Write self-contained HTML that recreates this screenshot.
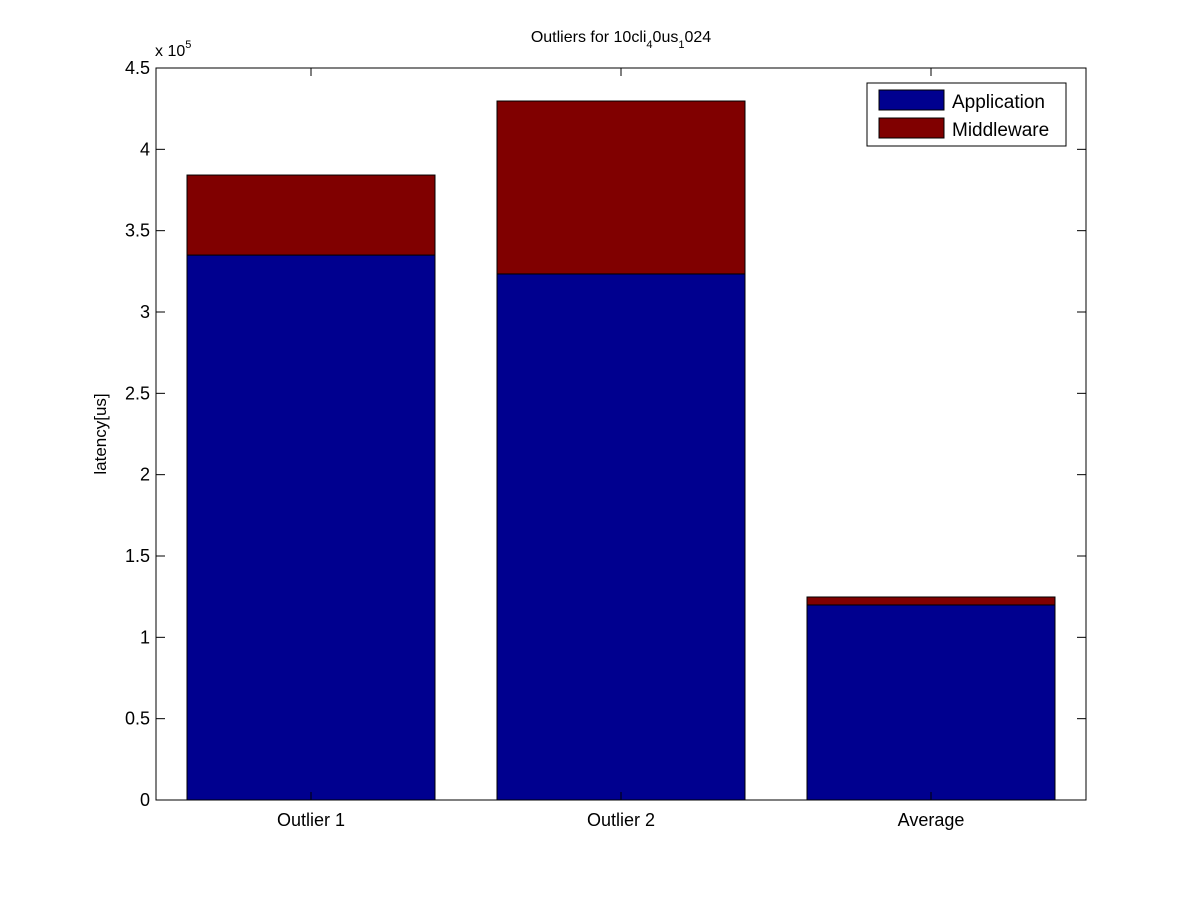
<!DOCTYPE html>
<html><head><meta charset="utf-8"><style>body{margin:0;background:#fff}svg{display:block;font-family:"Liberation Sans",Arial,sans-serif}</style></head>
<body>
<svg id="chart" width="1200" height="900">
<rect width="1200" height="900" fill="#fff"/>
<g id="plot"></g>
<text x="621" y="42" font-size="16" text-anchor="middle">Outliers for 10cli<tspan font-size="11" dy="6">4</tspan><tspan dy="-6">0us</tspan><tspan font-size="11" dy="6">1</tspan><tspan dy="-6">024</tspan></text>
<text transform="translate(106,434) rotate(-90)" font-size="17" text-anchor="middle">latency[us]</text>
<text x="155" y="56" font-size="16">x 10<tspan font-size="11" dy="-8">5</tspan></text>
<g>
<rect x="867" y="83" width="199" height="63" fill="#fff" stroke="#000"/>
<rect x="879" y="90" width="65" height="20" fill="#00008f" stroke="#000"/>
<text x="952" y="108" font-size="19">Application</text>
<rect x="879" y="118" width="65" height="20" fill="#800000" stroke="#000"/>
<text x="952" y="136" font-size="19">Middleware</text>
</g>
</svg>
<script>
const categories = ["Outlier 1", "Outlier 2", "Average"];
const application = [335000, 323400, 119900];
const middleware = [49200, 106300, 4900];
const yTicks = [0, 50000, 100000, 150000, 200000, 250000, 300000, 350000, 400000, 450000];
const yTickLabels = ["0", "0.5", "1", "1.5", "2", "2.5", "3", "3.5", "4", "4.5"];

const L = 156, R = 1086, T = 68, B = 800, yMax = 450000;
const NS = "http://www.w3.org/2000/svg";
const g = document.getElementById('plot');
const xScale = i => L + (i + 0.5) * (R - L) / categories.length;
const yScale = v => B - v / yMax * (B - T);
const bw = 0.8 * (R - L) / categories.length;
function mk(tag, attrs) { const e = document.createElementNS(NS, tag); for (const k in attrs) e.setAttribute(k, attrs[k]); g.appendChild(e); return e; }

categories.forEach((c, i) => {
  const x = xScale(i) - bw / 2;
  const a = mk('rect', {x: x, y: yScale(application[i]), width: bw, height: B - yScale(application[i]), fill: '#00008f', stroke: '#000'});
  
  
  const top = application[i] + middleware[i];
  const m = mk('rect', {x: x, y: yScale(top), width: bw, height: yScale(application[i]) - yScale(top), fill: '#800000', stroke: '#000'});
  
  
  const t = mk('text', {x: xScale(i), y: B + 26, 'font-size': 18, 'text-anchor': 'middle'});
  t.textContent = c;
  
  
  mk('line', {x1: xScale(i), x2: xScale(i), y1: B, y2: B - 8, stroke: '#000'});
  mk('line', {x1: xScale(i), x2: xScale(i), y1: T, y2: T + 8, stroke: '#000'});
});
const frame = mk('rect', {x: L, y: T, width: R - L, height: B - T, fill: 'none', stroke: '#000'});


yTicks.forEach((v, i) => {
  const y = yScale(v);
  mk('line', {x1: L, x2: L + 9, y1: y, y2: y, stroke: '#000'});
  mk('line', {x1: R, x2: R - 9, y1: y, y2: y, stroke: '#000'});
  const t = mk('text', {x: L - 6, y: y + 6, 'font-size': 18, 'text-anchor': 'end'});
  t.textContent = yTickLabels[i];
  
  
});
</script>
</body></html>
